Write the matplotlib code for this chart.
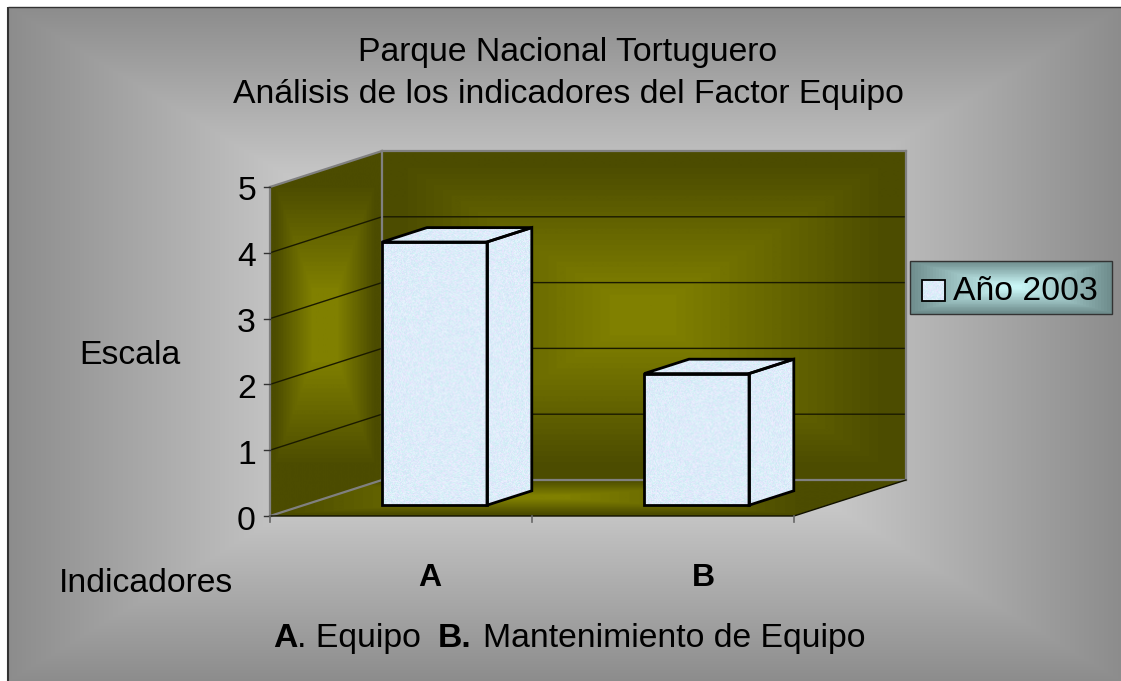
import numpy as np
import matplotlib
matplotlib.use("Agg")
import matplotlib.pyplot as plt
from matplotlib.patches import Polygon, Rectangle

plt.rcParams["font.family"] = ["Liberation Sans", "DejaVu Sans"]

"""Data"""
categories = ["A", "B"]
values = [4.0, 2.0]
y_ticks = [0, 1, 2, 3, 4, 5]
series_name = "Año 2003"
title_lines = ["Parque Nacional Tortuguero", "Análisis de los indicadores del Factor Equipo"]

"""Layout of the fake 3D box, in pixels"""
W, H = 1121, 681
x0, y0 = 270, 516      # front left corner of the floor
slot = 262             # width of one category
unit = 65.8            # height of one scale unit
dx, dy = 112, 36       # depth offset
bar_from, bar_to = 0.3, 0.7
depth_from, depth_to = 0.3, 0.7
fs = 24.3


def project(x, v, d):
    return x0 + x * slot + d * dx, y0 - v * unit - d * dy


def rect_gradient(x1, x2, y1, y2, cx, cy, hw, hh, inner, outer, steps=24, plateau=0.0):
    """Rectangular gradient going out from a centre, in steps like the old Excel ones"""
    xx, yy = np.meshgrid(np.arange(x1, x2 + 1), np.arange(y1, y2 + 1))
    t = np.maximum(np.abs(xx - cx) / hw, np.abs(yy - cy) / hh)
    t = np.clip((t - plateau) / (1 - plateau), 0, 1)
    t = np.round(t * steps) / steps
    inner, outer = np.array(inner), np.array(outer)
    return (inner + (outer - inner) * t[..., None]) / 255.0


def fill(ax, img, pts, extent):
    patch = Polygon(pts, closed=True, fc="none", ec="none", transform=ax.transData)
    ax.add_patch(patch)
    im = ax.imshow(img, extent=extent, interpolation="bilinear", aspect="auto", zorder=2)
    im.set_clip_path(patch)
    return im


def speckle(x1, x2, y1, y2):
    """Pale blue marble look of the bars, from a sine hash"""
    xx, yy = np.meshgrid(np.arange(x1, x2 + 1), np.arange(y1, y2 + 1))
    n = np.sin(xx * 12.9898 + yy * 78.233) * 43758.5453
    n = n - np.floor(n)
    n2 = np.sin(xx * 39.346 + yy * 11.135) * 24634.6345
    n2 = n2 - np.floor(n2)
    img = np.zeros(xx.shape + (3,))
    img[..., 0] = 205 + 32 * n
    img[..., 1] = 226 + 20 * n2
    img[..., 2] = 244 + 11 * n
    return img / 255.0


fig = plt.figure(figsize=(W / 100, H / 100), dpi=100)
ax = fig.add_axes([0, 0, 1, 1])

"""Background"""
bg = rect_gradient(8, W, 7, H, 565, 344, 556, 337, (255, 255, 255), (140, 140, 140), steps=115)
ax.imshow(bg, extent=(8, W, H, 7), interpolation="nearest", aspect="auto", zorder=0)
ax.plot([8, 8], [H, 7], color="#333333", lw=1.5, zorder=1, solid_capstyle="butt")
ax.plot([8, W], [7, 7], color="#333333", lw=1.0, zorder=1, solid_capstyle="butt")

"""Walls and floor"""
n_cat = len(categories)
top = max(y_ticks)
bl = project(0, 0, 1)
br = project(n_cat, 0, 1)
tl = project(0, top, 1)
tr = project(n_cat, top, 1)
fl = project(0, 0, 0)
fr = project(n_cat, 0, 0)
ftl = project(0, top, 0)

inner = (128, 128, 0)
outer = (76, 76, 0)
ext = (bl[0], br[0], bl[1], tl[1])
fill(ax, rect_gradient(bl[0], br[0], tl[1], bl[1], 643, 315, 240, 150, inner, outer, plateau=0.12),
     [tl, tr, br, bl], ext)
ext = (fl[0], bl[0], fl[1], tl[1])
fill(ax, rect_gradient(fl[0], bl[0], tl[1], fl[1], 325, 325, 50, 140, inner, outer, plateau=0.25),
     [ftl, tl, bl, fl], ext)
ext = (fl[0], br[0], fl[1], br[1])
fill(ax, rect_gradient(fl[0], br[0], br[1], fl[1], 540, 497, 260, 17, inner, outer, plateau=0.1),
     [fl, fr, br, bl], ext)

"""Grid lines"""
for v in y_ticks[1:-1]:
    a, b, c = project(0, v, 0), project(0, v, 1), project(n_cat, v, 1)
    ax.plot([a[0], b[0], c[0]], [a[1], b[1], c[1]], color="#1a1a00", lw=1.0, zorder=3)

"""Box edges"""
edge = "#808080"
for p, q in [(ftl, tl), (tl, tr), (tr, br), (br, bl), (bl, tl), (bl, fl), (ftl, fl)]:
    ax.plot([p[0], q[0]], [p[1], q[1]], color=edge, lw=1.6, zorder=3)
ax.plot([fl[0], fr[0], br[0]], [fl[1], fr[1], br[1]], color="#111100", lw=1.0, zorder=3)

"""Ticks"""
for v in y_ticks:
    p = project(0, v, 0)
    ax.plot([p[0] - 6, p[0]], [p[1], p[1]], color="#333333", lw=1.0, zorder=3)
    ax.text(p[0] - 14, p[1] + 1.5, str(v), ha="right", va="center_baseline", fontsize=fs, zorder=5)
for i in range(n_cat + 1):
    p = project(i, 0, 0)
    ax.plot([p[0], p[0]], [p[1], p[1] + 6], color="#666666", lw=1.2, zorder=3)

"""Bars"""
for i, val in enumerate(values):
    f_bl = project(i + bar_from, 0, depth_from)
    f_br = project(i + bar_to, 0, depth_from)
    f_tl = project(i + bar_from, val, depth_from)
    f_tr = project(i + bar_to, val, depth_from)
    b_tl = project(i + bar_from, val, depth_to)
    b_tr = project(i + bar_to, val, depth_to)
    b_br = project(i + bar_to, 0, depth_to)
    x1, x2 = int(f_bl[0]), int(b_br[0]) + 1
    y1, y2 = int(b_tl[1]), int(f_bl[1]) + 1
    tex = speckle(x1, x2, y1, y2)
    ext = (x1, x2, y2, y1)
    for face in ([f_tl, f_tr, f_br, f_bl], [f_tl, b_tl, b_tr, f_tr], [f_tr, b_tr, b_br, f_br]):
        im = fill(ax, tex, face, ext)
        im.set_zorder(4)
        ax.add_patch(Polygon(face, closed=True, fc="none", ec="black", lw=2.0,
                             joinstyle="miter", zorder=4.5))

"""Legend"""
lx1, lx2, ly1, ly2 = 910, 1112, 261, 314
leg = rect_gradient(lx1, lx2, ly1, ly2, 1011, 287, 101, 26, (200, 245, 245), (110, 140, 140),
                    steps=30, plateau=0.1)
ax.imshow(leg, extent=(lx1, lx2, ly2, ly1), interpolation="nearest", aspect="auto", zorder=2)
ax.add_patch(Rectangle((lx1, ly1), lx2 - lx1, ly2 - ly1, fc="none", ec="#333333", lw=1.0, zorder=3))
ax.imshow(speckle(922, 945, 280, 301), extent=(922, 945, 301, 280), aspect="auto", zorder=4)
ax.add_patch(Rectangle((922, 280), 23, 21, fc="none", ec="black", lw=1.3, zorder=5))
ax.text(953, 291, series_name, fontsize=fs, ha="left", va="center", zorder=5)

"""Texts"""
ax.text(568, 52, title_lines[0], fontsize=fs, ha="center", va="center", zorder=5)
ax.text(568, 94, title_lines[1], fontsize=fs, ha="center", va="center", zorder=5)
ax.text(130, 355, "Escala", fontsize=fs, ha="center", va="center", zorder=5)
ax.text(146, 583, "Indicadores", fontsize=fs, ha="center", va="center", zorder=5)
for i, cat in enumerate(categories):
    ax.text(430 + i * 273, 578, cat, fontsize=23, fontweight="bold", ha="center", va="center", zorder=5)
ax.text(273, 647, "A", fontsize=fs, fontweight="bold", ha="left", va="baseline", zorder=5)
ax.text(297, 647, ". Equipo", fontsize=fs, ha="left", va="baseline", zorder=5)
ax.text(438, 647, "B.", fontsize=fs, fontweight="bold", ha="left", va="baseline", zorder=5)
ax.text(483, 647, "Mantenimiento de Equipo", fontsize=fs, ha="left", va="baseline", zorder=5)

ax.set_xlim(0, W)
ax.set_ylim(H, 0)
ax.axis("off")
fig.savefig("out.png", dpi=100, facecolor="white")
